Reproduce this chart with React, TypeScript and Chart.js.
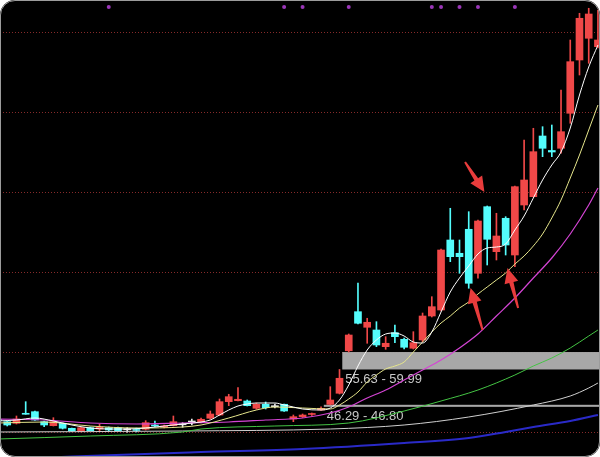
import React, { useEffect, useRef } from "react";
import { Chart, registerables } from "chart.js";

Chart.register(...registerables);

// ---- candle data (index 0..65) ----
const OPEN = [
  43.0, 42.58, 42.18, 44.68, 45.08, 42.58, 41.58, 42.18, 40.93, 40.08,
  41.08, 40.75, 41.08, 41.08, 40.55, 40.5, 40.68, 41.63, 41.25, 41.58,
  41.8, 42.5, 42.33, 43.43, 44.25, 47.58, 47.83, 47.75, 45.93, 46.93,
  46.33, 46.93, 43.25, 43.83, 44.38, 45.5, 46.9, 49.68, 60.3, 70.08,
  66.18, 65.5, 61.33, 64.83, 63.18, 60.93, 63.0, 69.0, 70.5, 88.0,
  84.68, 90.68, 79.68, 96.33, 85.08, 93.43, 84.25, 96.75, 98.83, 114.0,
  110.38, 110.93, 119.68, 133.0, 138.43, 136.33,
];
const CLOSE = [
  42.9, 41.75, 43.25, 44.43, 43.0, 41.75, 42.58, 40.93, 40.25, 41.08,
  40.33, 41.25, 40.5, 40.33, 40.55, 40.38, 42.33, 41.5, 41.38, 42.58,
  41.8, 42.5, 43.18, 44.5, 47.58, 48.83, 48.18, 46.58, 46.93, 46.08,
  46.33, 45.25, 43.83, 44.25, 44.58, 45.93, 48.0, 53.43, 64.25, 67.18,
  67.43, 61.75, 62.18, 63.83, 61.18, 62.33, 69.0, 71.33, 85.5, 83.83,
  83.83, 77.18, 92.75, 88.18, 89.0, 86.75, 101.33, 103.0, 110.08, 110.93,
  110.0, 115.08, 132.58, 143.43, 144.5, 138.0,
];
const HIGH = [
  43.5, 42.75, 44.0, 47.58, 45.25, 42.75, 43.58, 42.25, 41.0, 41.25,
  41.25, 41.93, 41.25, 41.25, 41.08, 41.0, 42.83, 42.75, 41.75, 44.0,
  42.33, 43.25, 43.5, 45.25, 48.25, 49.43, 51.08, 48.0, 47.25, 47.5,
  47.0, 47.0, 44.25, 44.5, 44.75, 46.29, 51.33, 55.63, 64.5, 77.25,
  68.43, 67.58, 63.83, 66.75, 63.5, 65.08, 69.75, 73.83, 85.75, 95.93,
  88.0, 95.08, 93.0, 96.5, 94.68, 93.83, 101.5, 113.0, 115.93, 116.33,
  116.75, 125.5, 138.0, 144.68, 145.93, 145.5,
];
const LOW = [
  42.5, 41.5, 42.0, 44.43, 42.9, 41.33, 41.5, 40.75, 40.13, 40.0,
  40.25, 40.08, 40.25, 40.25, 39.93, 40.0, 40.5, 41.33, 41.0, 41.5,
  41.18, 41.75, 42.25, 43.25, 44.13, 46.58, 47.75, 46.5, 45.68, 45.75,
  46.0, 45.13, 42.58, 43.63, 44.13, 45.38, 46.8, 49.5, 59.99, 67.0,
  62.18, 61.33, 60.68, 62.33, 60.75, 60.75, 62.58, 68.75, 70.25, 82.58,
  79.68, 75.93, 78.43, 81.75, 83.0, 84.25, 81.33, 95.5, 98.75, 108.83,
  108.83, 109.68, 117.18, 129.25, 132.18, 136.0,
];

// ---- moving average lines (read at candle indices) ----
const MA5_AT = [0, 2, 4, 6, 8, 10, 12, 14, 16, 18, 20, 22, 23, 24, 25, 26, 27, 28, 30, 31, 32, 33, 35, 36, 37, 38, 39, 40, 41, 42, 43, 44, 45, 46, 47, 48, 49, 50, 51, 52, 53, 54, 55, 56, 57, 58, 59, 60, 61, 62, 63, 64, 65];
const MA5 = [42.75, 43.0, 43.5, 42.75, 41.75, 41.0, 40.75, 40.75, 41.0, 41.5, 42.0, 42.5, 43.0, 44.25, 45.5, 46.5, 47.0, 47.25, 47.25, 46.75, 46.25, 45.75, 45.5, 46.0, 48.0, 51.75, 56.5, 60.5, 63.0, 64.5, 64.75, 64.0, 62.5, 62.25, 65.0, 70.0, 75.0, 78.5, 81.5, 84.5, 86.0, 86.25, 87.0, 90.5, 94.0, 98.5, 103.0, 106.75, 110.0, 116.0, 124.25, 131.25, 136.75];

const MA10_AT = [0, 5, 10, 15, 20, 22, 25, 28, 30, 33, 36, 37, 38, 39, 40, 41, 42, 43, 44, 45, 46, 47, 48, 49, 50, 51, 52, 53, 54, 55, 56, 57, 58, 59, 60, 61, 62, 63, 64, 65];
const MA10 = [42.25, 42.5, 41.5, 41.0, 41.25, 41.75, 43.5, 45.5, 46.25, 46.0, 45.75, 46.75, 48.25, 50.0, 52.5, 54.25, 55.75, 56.5, 57.5, 60.0, 62.5, 65.0, 67.25, 69.0, 71.0, 72.5, 74.5, 76.25, 78.0, 79.75, 82.0, 84.0, 86.5, 89.5, 93.5, 98.0, 103.5, 109.25, 115.5, 121.75];

const MA20_AT = [0, 5, 10, 15, 20, 25, 29, 33, 36, 38, 40, 42, 44, 46, 48, 50, 52, 54, 56, 58, 60, 62, 64, 65];
const MA20 = [43.25, 43.0, 42.25, 42.0, 42.25, 42.5, 43.0, 43.5, 44.75, 46.25, 48.5, 50.5, 53.0, 55.5, 58.0, 61.0, 64.5, 69.0, 73.5, 78.5, 83.5, 89.5, 96.75, 101.0];

const MA60_AT = [0, 10, 20, 22, 30, 38, 44, 48, 52, 56, 58, 60, 62, 64, 65];
const MA60 = [38.25, 39.0, 40.0, 40.75, 41.5, 42.25, 45.25, 47.75, 50.5, 54.25, 56.5, 58.5, 61.0, 64.0, 65.5];

const MA120_AT = [0, 20, 36, 44, 51, 58, 62, 64, 65];
const MA120 = [40.0, 40.25, 40.75, 41.75, 43.75, 46.75, 49.0, 51.0, 52.25];

const MA250_AT = [0, 8, 22, 33, 44, 51, 55, 58, 62, 65];
const MA250 = [33.0, 33.875, 35.0, 35.75, 37.25, 38.5, 40.0, 41.25, 42.75, 44.25];

// ---- annotations ----
const GRID_LEVELS = [40, 60, 80, 100, 120, 140];
const GAP_CANDLE = [36, 38];
const GAP_LOW = [46.29, 55.63];
const GAP_HIGH = [46.8, 59.99];
const SIGNAL_AT = [12, 31, 33, 38, 47, 48, 50, 52, 56];
const SIGNAL_LEVEL = 146.25;
const ARROW_FROM_X = [50.6, 52.5, 56.35];
const ARROW_FROM_Y = [107.5, 65.5, 71.0];
const ARROW_TO_X = [52.7, 51.2, 55.2];
const ARROW_TO_Y = [100.0, 76.0, 81.0];

const X_MIN = 0.2167;
const X_MAX = 65.222;
const Y_MIN = 33.75;
const Y_MAX = 148;

const UP = "#f04848";
const DOWN = "#54fcfc";
const FLAT = "#e8e8e8";

function candleColor(i: number) {
  if (CLOSE[i] > OPEN[i]) return UP;
  if (CLOSE[i] < OPEN[i]) return DOWN;
  return FLAT;
}

function pts(at: number[], vals: number[]) {
  return at.map((x, k) => ({ x, y: vals[k] }));
}

const overlayPlugin = {
  id: "overlay",
  beforeDatasetsDraw(chart: any) {
    const { ctx, chartArea } = chart;
    const x = chart.scales.x;
    const y = chart.scales.y;
    ctx.save();
    ctx.strokeStyle = "#862a2a";
    ctx.lineWidth = 1;
    ctx.setLineDash([1, 2]);
    GRID_LEVELS.forEach((v) => {
      const py = Math.round(y.getPixelForValue(v)) + 0.5;
      ctx.beginPath();
      ctx.moveTo(chartArea.left, py);
      ctx.lineTo(chartArea.right, py);
      ctx.stroke();
    });
    ctx.setLineDash([]);
    GAP_LOW.forEach((lo, k) => {
      const x0 = x.getPixelForValue(GAP_CANDLE[k] - 0.7);
      const top = y.getPixelForValue(GAP_HIGH[k]);
      const bot = y.getPixelForValue(lo);
      ctx.fillStyle = "#a8a8a8";
      ctx.fillRect(x0, top, chartArea.right - x0, Math.max(2, bot - top));
      ctx.fillStyle = "#c8c8c8";
      ctx.font = '13px "Liberation Sans", Arial, sans-serif';
      ctx.textBaseline = "middle";
      ctx.textAlign = "left";
      ctx.fillText(lo.toFixed(2) + " - " + GAP_HIGH[k].toFixed(2), x0 + 3, Math.max(bot, top + 2) + 10);
    });
    ctx.restore();
  },
  afterDatasetsDraw(chart: any) {
    const { ctx } = chart;
    const x = chart.scales.x;
    const y = chart.scales.y;
    ctx.save();
    ctx.fillStyle = "#e83c3c";
    ctx.strokeStyle = "#e83c3c";
    ctx.lineCap = "round";
    ARROW_FROM_X.forEach((fx, k) => {
      const x1 = x.getPixelForValue(fx);
      const y1 = y.getPixelForValue(ARROW_FROM_Y[k]);
      const x2 = x.getPixelForValue(ARROW_TO_X[k]);
      const y2 = y.getPixelForValue(ARROW_TO_Y[k]);
      const ang = Math.atan2(y2 - y1, x2 - x1);
      const headLen = 15;
      const headW = 7;
      const bx = x2 - headLen * Math.cos(ang);
      const by = y2 - headLen * Math.sin(ang);
      // tapered shaft
      const sx = Math.sin(ang);
      const cy = Math.cos(ang);
      ctx.beginPath();
      ctx.moveTo(x1 + 1 * sx, y1 - 1 * cy);
      ctx.lineTo(bx + 2.2 * sx, by - 2.2 * cy);
      ctx.lineTo(bx + headW * sx, by - headW * cy);
      ctx.lineTo(x2, y2);
      ctx.lineTo(bx - headW * sx, by + headW * cy);
      ctx.lineTo(bx - 2.2 * sx, by + 2.2 * cy);
      ctx.lineTo(x1 - 1 * sx, y1 + 1 * cy);
      ctx.closePath();
      ctx.fill();
    });
    ctx.restore();
  },
};

export default function App() {
  const ref = useRef<HTMLCanvasElement | null>(null);

  useEffect(() => {
    if (!ref.current) return;
    const idx = OPEN.map((_, i) => i);
    const lineDs = (label: string, at: number[], vals: number[], color: string, width: number) => ({
      type: "line" as const,
      label,
      data: pts(at, vals),
      borderColor: color,
      borderWidth: width,
      pointRadius: 0,
      cubicInterpolationMode: "monotone" as const,
      order: 2,
    });
    const chart = new Chart(ref.current, {
      type: "bar",
      data: {
        datasets: [
          {
            type: "line",
            label: "signal",
            data: SIGNAL_AT.map((i) => ({ x: i, y: SIGNAL_LEVEL })),
            showLine: false,
            pointRadius: 2,
            pointBackgroundColor: "#9a36b8",
            pointBorderWidth: 0,
            order: 0,
          } as any,
          lineDs("MA5", MA5_AT, MA5, "#ffffff", 1),
          lineDs("MA10", MA10_AT, MA10, "#e6e68c", 1),
          lineDs("MA20", MA20_AT, MA20, "#d444d4", 1.2),
          lineDs("MA60", MA60_AT, MA60, "#44c444", 1),
          lineDs("MA120", MA120_AT, MA120, "#cfcfcf", 1),
          lineDs("MA250", MA250_AT, MA250, "#2a2ac8", 2),
          {
            type: "bar",
            label: "body",
            data: idx.map((i) => ({ x: i, y: [OPEN[i], CLOSE[i]] })),
            backgroundColor: idx.map(candleColor),
            borderWidth: 0,
            barThickness: 7,
            minBarLength: 1,
            grouped: false,
            order: 3,
          } as any,
          {
            type: "bar",
            label: "wick",
            data: idx.map((i) => ({ x: i, y: [LOW[i], HIGH[i]] })),
            backgroundColor: idx.map(candleColor),
            borderWidth: 0,
            barThickness: 1,
            grouped: false,
            order: 4,
          } as any,
        ],
      },
      options: {
        responsive: false,
        maintainAspectRatio: false,
        animation: false,
        devicePixelRatio: 1,
        layout: { padding: 0, autoPadding: false },
        plugins: { legend: { display: false }, tooltip: { enabled: false } },
        events: [],
        scales: {
          x: { type: "linear", min: X_MIN, max: X_MAX, display: false, offset: false, grid: { offset: false } },
          y: { type: "linear", min: Y_MIN, max: Y_MAX, display: false, beginAtZero: false },
        },
      } as any,
      plugins: [overlayPlugin],
    });
    return () => chart.destroy();
  }, []);

  return (
    <div style={{ position: "fixed", left: 0, top: 0, width: 600, height: 457, background: "#ffffff" }}>
      <div style={{ position: "absolute", left: 0, top: 0, width: 600, height: 457, background: "#000", borderRadius: 15, overflow: "hidden" }}>
        <canvas ref={ref} width={600} height={457} style={{ display: "block", width: 600, height: 457 }} />
      </div>
      <div style={{ position: "absolute", left: 0, top: 0, width: 600, height: 457, boxSizing: "border-box", borderRadius: 15, border: "1px solid #9c9c9c", pointerEvents: "none" }} />
    </div>
  );
}
